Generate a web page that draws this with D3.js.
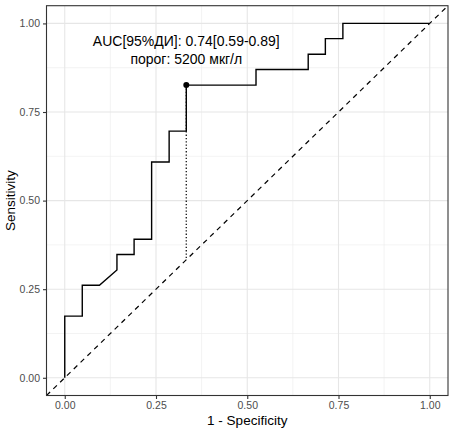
<!DOCTYPE html>
<html>
<head>
<meta charset="utf-8">
<script src="https://cdn.jsdelivr.net/npm/d3@7"></script>
<style>
  body { margin: 0; background: #fff; }
  text { font-family: "Liberation Sans", Arial, Helvetica, sans-serif; }
</style>
</head>
<body>
<svg id="chart"></svg>
<script>
// ROC curve coordinates
const fpr = [0, 0, 0.048, 0.048, 0.095, 0.143, 0.143, 0.190, 0.190, 0.238, 0.238, 0.286, 0.286, 0.333, 0.333, 0.524, 0.524, 0.667, 0.667, 0.714, 0.714, 0.762, 0.762, 1];
const tpr = [0, 0.174, 0.174, 0.261, 0.261, 0.304, 0.348, 0.348, 0.391, 0.391, 0.609, 0.609, 0.696, 0.696, 0.826, 0.826, 0.870, 0.870, 0.913, 0.913, 0.957, 0.957, 1, 1];
const cutoff = [0.333, 0.826];
const ticks = [0, 0.25, 0.5, 0.75, 1];
const minorTicks = [0.125, 0.375, 0.625, 0.875];
const labels = ['AUC[95%ДИ]: 0.74[0.59-0.89]', 'порог: 5200 мкг/л'];

const width = 450;
const height = 433;
const svg = d3.select('#chart').attr('width', width).attr('height', height);

const x = d3.scaleLinear().domain([-0.05, 1.05]).range([46.5, 448]);
const y = d3.scaleLinear().domain([-0.05, 1.05]).range([395.5, 5.7]);

// grid
const grid = svg.append('g');
grid.selectAll('.minx').data(minorTicks).enter().append('line')
    .attr('x1', d => x(d)).attr('x2', d => x(d)).attr('y1', y.range()[0]).attr('y2', y.range()[1])
    .attr('stroke', '#ebebeb').attr('stroke-width', 0.6);
grid.selectAll('.miny').data(minorTicks).enter().append('line')
    .attr('y1', d => y(d)).attr('y2', d => y(d)).attr('x1', x.range()[0]).attr('x2', x.range()[1])
    .attr('stroke', '#ebebeb').attr('stroke-width', 0.6);
grid.selectAll('.majx').data(ticks).enter().append('line')
    .attr('x1', d => x(d)).attr('x2', d => x(d)).attr('y1', y.range()[0]).attr('y2', y.range()[1])
    .attr('stroke', '#e6e6e6').attr('stroke-width', 1.1);
grid.selectAll('.majy').data(ticks).enter().append('line')
    .attr('y1', d => y(d)).attr('y2', d => y(d)).attr('x1', x.range()[0]).attr('x2', x.range()[1])
    .attr('stroke', '#e6e6e6').attr('stroke-width', 1.1);

// diagonal reference line across the panel
svg.append('line')
    .attr('x1', x(-0.05)).attr('y1', y(-0.05)).attr('x2', x(1.05)).attr('y2', y(1.05))
    .attr('stroke', '#000').attr('stroke-width', 1.2).attr('stroke-dasharray', '5,4.5');

// dotted drop from cutoff to diagonal
svg.append('line')
    .attr('x1', x(cutoff[0])).attr('y1', y(cutoff[1])).attr('x2', x(cutoff[0])).attr('y2', y(cutoff[0]))
    .attr('stroke', '#222').attr('stroke-width', 1.4).attr('stroke-dasharray', '1.3,2');

// ROC line
const line = d3.line().x(i => x(fpr[i])).y(i => y(tpr[i]));
svg.append('path')
    .attr('d', line(d3.range(fpr.length)))
    .attr('fill', 'none').attr('stroke', '#000').attr('stroke-width', 1.4);

svg.append('circle')
    .attr('cx', x(cutoff[0])).attr('cy', y(cutoff[1])).attr('r', 3).attr('fill', '#000');

// annotation
svg.selectAll('.lab').data(labels).enter().append('text')
    .attr('x', x(cutoff[0])).attr('y', (d, i) => 46 + i * 17.5)
    .attr('text-anchor', 'middle').attr('font-size', 14).attr('fill', '#000')
    .text(d => d);

// panel border
svg.append('rect')
    .attr('x', x.range()[0]).attr('y', y.range()[1])
    .attr('width', x.range()[1] - x.range()[0]).attr('height', y.range()[0] - y.range()[1])
    .attr('fill', 'none').attr('stroke', '#333').attr('stroke-width', 1.1);

// axes
const xAxis = svg.append('g').attr('transform', `translate(0,${y.range()[0]})`)
    .call(d3.axisBottom(x).tickValues(ticks).tickFormat(d3.format('.2f')).tickSize(3.5).tickPadding(3));
const yAxis = svg.append('g').attr('transform', `translate(${x.range()[0]},0)`)
    .call(d3.axisLeft(y).tickValues(ticks).tickFormat(d3.format('.2f')).tickSize(3.5).tickPadding(3));
[xAxis, yAxis].forEach(a => {
    a.select('.domain').remove();
    a.selectAll('line').attr('stroke', '#333').attr('stroke-width', 1.1);
    a.selectAll('text').attr('fill', '#4d4d4d').attr('font-size', 10.5)
        .attr('font-family', '"Liberation Sans", Arial, sans-serif');
});

svg.append('text')
    .attr('x', (x.range()[0] + x.range()[1]) / 2).attr('y', 425)
    .attr('text-anchor', 'middle').attr('font-size', 13.5).text('1 - Specificity');
svg.append('text')
    .attr('transform', `translate(15,${(y.range()[0] + y.range()[1]) / 2}) rotate(-90)`)
    .attr('text-anchor', 'middle').attr('font-size', 13.5).text('Sensitivity');
</script>
</body>
</html>
